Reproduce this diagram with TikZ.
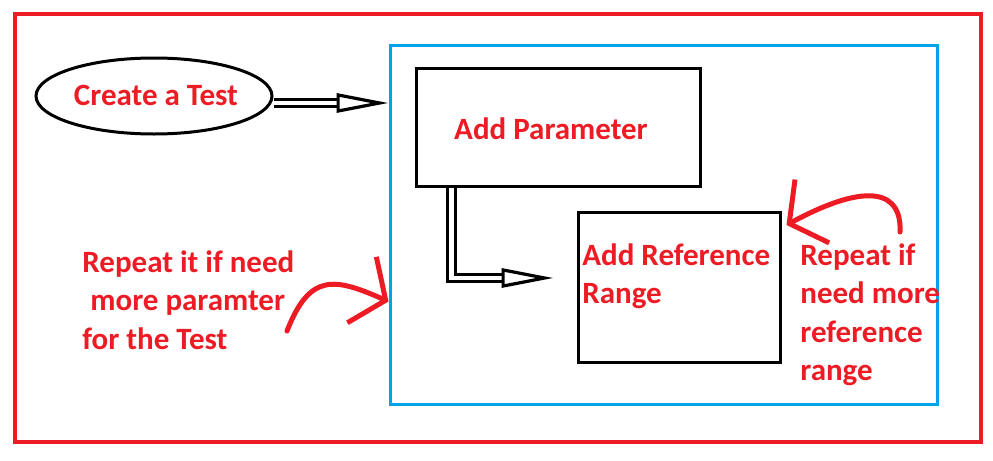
\documentclass[tikz,border=0pt]{standalone}
\usepackage{fontspec}
\setmainfont{Carlito}
\usetikzlibrary{arrows.meta,calc,positioning,shapes.geometric}

\definecolor{paintred}{RGB}{237,28,36}
\definecolor{paintblue}{RGB}{0,162,232}

\tikzset{
  lbl/.style={text=paintred,font=\fontsize{15.5}{19.3}\selectfont\bfseries,
    align=left,inner sep=0pt},
  stepbox/.style={draw,line width=1.5pt,inner sep=0pt},
  dblarrow/.style={double,double distance=2.2pt,line width=1.6pt,
    -{Triangle[open,length=26pt,width=9.5pt]}},
  redarrow/.style={paintred,line width=2.5pt,line cap=round,
    -{Straight Barb[length=13pt,width=36pt,line width=2.5pt]}}
}

\begin{document}
\begin{tikzpicture}[x=0.5pt,y=-0.5pt]
  \useasboundingbox (0,0) rectangle (993,461);
  % frames
  \draw[paintred,line width=2pt] (15,14) rectangle (981,442);
  \node[draw=paintblue,line width=1.5pt,minimum width=273.5pt,
    minimum height=179.5pt,inner sep=0pt] (group) at (663.5,224.5) {};

  % start
  \node[draw,ellipse,line width=1.5pt,minimum width=118pt,
    minimum height=38pt] (test) at (154,96) {};
  \node[lbl] (testtxt) at (156,95) {Create a Test};

  % steps
  \node[stepbox,minimum width=142pt,minimum height=59pt] (param) at (558,127) {};
  \node[lbl] (paramtxt) at (551,129) {Add Parameter};
  \node[stepbox,minimum width=101pt,minimum height=75pt] (ref) at (679,287) {};
  \node[lbl,anchor=north west] (reftxt) at (582,243) {Add Reference\\Range};

  % notes
  \node[lbl,anchor=north west] (notel) at (82,250)
    {Repeat it if need\\\hspace{4pt}more paramter\\for the Test};
  \node[lbl,anchor=north west] (noter) at (800,243)
    {Repeat if\\need more\\reference\\range};

  % connectors
  \coordinate (a1) at ($(test.east)+(0,7)$);
  \draw[dblarrow] (a1) -- (a1 -| group.west);
  \coordinate (a2) at ($(param.south west)+(37,0)$);
  \coordinate (a3) at ($(ref.west)+(-23,-9)$);
  \draw[dblarrow] (a2) |- (a3);

  \coordinate (l1) at (287,331);
  \coordinate (l2) at ($(group.west)+(0,77)$);
  \draw[redarrow] (l1) .. controls (310,272) and (335,278) .. (l2);
  \coordinate (r1) at (900,232);
  \coordinate (r2) at ($(ref.east)+(5,-62)$);
  \draw[redarrow] (r1) .. controls (902,192) and (870,180) .. (r2);
\end{tikzpicture}
\end{document}
